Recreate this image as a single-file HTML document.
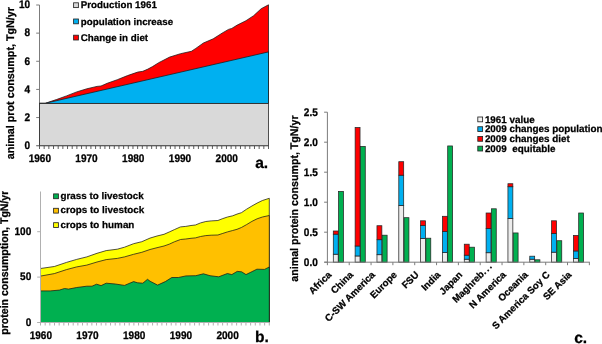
<!DOCTYPE html>
<html><head><meta charset="utf-8"><title>Figure</title>
<style>html,body{margin:0;padding:0;background:#fff;}svg{display:block;}text{font-family:"Liberation Sans",Arial,sans-serif;font-weight:bold;text-rendering:geometricPrecision;stroke:#000;stroke-width:0.25px;}</style>
</head><body>
<svg width="602" height="344" viewBox="0 0 602 344" font-family="Liberation Sans, Arial, sans-serif" font-weight="bold" fill="#000">
<line x1="39.50" y1="5.00" x2="39.50" y2="146.20" stroke="#7c7c7c" stroke-width="1"/>
<line x1="36.50" y1="145.70" x2="269.00" y2="145.70" stroke="#7c7c7c" stroke-width="1"/>
<line x1="36.20" y1="145.70" x2="39.50" y2="145.70" stroke="#7c7c7c" stroke-width="1"/>
<text transform="translate(30.20,149.05) scale(1.04,1.145)" font-size="9.67" text-anchor="end" >0</text>
<line x1="36.20" y1="117.56" x2="39.50" y2="117.56" stroke="#7c7c7c" stroke-width="1"/>
<text transform="translate(30.20,120.91) scale(1.04,1.145)" font-size="9.67" text-anchor="end" >2</text>
<line x1="36.20" y1="89.42" x2="39.50" y2="89.42" stroke="#7c7c7c" stroke-width="1"/>
<text transform="translate(30.20,92.77) scale(1.04,1.145)" font-size="9.67" text-anchor="end" >4</text>
<line x1="36.20" y1="61.28" x2="39.50" y2="61.28" stroke="#7c7c7c" stroke-width="1"/>
<text transform="translate(30.20,64.63) scale(1.04,1.145)" font-size="9.67" text-anchor="end" >6</text>
<line x1="36.20" y1="33.14" x2="39.50" y2="33.14" stroke="#7c7c7c" stroke-width="1"/>
<text transform="translate(30.20,36.49) scale(1.04,1.145)" font-size="9.67" text-anchor="end" >8</text>
<line x1="36.20" y1="5.00" x2="39.50" y2="5.00" stroke="#7c7c7c" stroke-width="1"/>
<text transform="translate(30.20,8.35) scale(1.04,1.145)" font-size="9.67" text-anchor="end" >10</text>
<line x1="39.50" y1="145.70" x2="39.50" y2="149.00" stroke="#5e5e5e" stroke-width="1"/>
<line x1="44.17" y1="145.70" x2="44.17" y2="149.00" stroke="#5e5e5e" stroke-width="1"/>
<line x1="48.85" y1="145.70" x2="48.85" y2="149.00" stroke="#5e5e5e" stroke-width="1"/>
<line x1="53.52" y1="145.70" x2="53.52" y2="149.00" stroke="#5e5e5e" stroke-width="1"/>
<line x1="58.19" y1="145.70" x2="58.19" y2="149.00" stroke="#5e5e5e" stroke-width="1"/>
<line x1="62.87" y1="145.70" x2="62.87" y2="149.00" stroke="#5e5e5e" stroke-width="1"/>
<line x1="67.54" y1="145.70" x2="67.54" y2="149.00" stroke="#5e5e5e" stroke-width="1"/>
<line x1="72.21" y1="145.70" x2="72.21" y2="149.00" stroke="#5e5e5e" stroke-width="1"/>
<line x1="76.89" y1="145.70" x2="76.89" y2="149.00" stroke="#5e5e5e" stroke-width="1"/>
<line x1="81.56" y1="145.70" x2="81.56" y2="149.00" stroke="#5e5e5e" stroke-width="1"/>
<line x1="86.23" y1="145.70" x2="86.23" y2="149.00" stroke="#5e5e5e" stroke-width="1"/>
<line x1="90.91" y1="145.70" x2="90.91" y2="149.00" stroke="#5e5e5e" stroke-width="1"/>
<line x1="95.58" y1="145.70" x2="95.58" y2="149.00" stroke="#5e5e5e" stroke-width="1"/>
<line x1="100.26" y1="145.70" x2="100.26" y2="149.00" stroke="#5e5e5e" stroke-width="1"/>
<line x1="104.93" y1="145.70" x2="104.93" y2="149.00" stroke="#5e5e5e" stroke-width="1"/>
<line x1="109.60" y1="145.70" x2="109.60" y2="149.00" stroke="#5e5e5e" stroke-width="1"/>
<line x1="114.28" y1="145.70" x2="114.28" y2="149.00" stroke="#5e5e5e" stroke-width="1"/>
<line x1="118.95" y1="145.70" x2="118.95" y2="149.00" stroke="#5e5e5e" stroke-width="1"/>
<line x1="123.62" y1="145.70" x2="123.62" y2="149.00" stroke="#5e5e5e" stroke-width="1"/>
<line x1="128.30" y1="145.70" x2="128.30" y2="149.00" stroke="#5e5e5e" stroke-width="1"/>
<line x1="132.97" y1="145.70" x2="132.97" y2="149.00" stroke="#5e5e5e" stroke-width="1"/>
<line x1="137.64" y1="145.70" x2="137.64" y2="149.00" stroke="#5e5e5e" stroke-width="1"/>
<line x1="142.32" y1="145.70" x2="142.32" y2="149.00" stroke="#5e5e5e" stroke-width="1"/>
<line x1="146.99" y1="145.70" x2="146.99" y2="149.00" stroke="#5e5e5e" stroke-width="1"/>
<line x1="151.66" y1="145.70" x2="151.66" y2="149.00" stroke="#5e5e5e" stroke-width="1"/>
<line x1="156.34" y1="145.70" x2="156.34" y2="149.00" stroke="#5e5e5e" stroke-width="1"/>
<line x1="161.01" y1="145.70" x2="161.01" y2="149.00" stroke="#5e5e5e" stroke-width="1"/>
<line x1="165.68" y1="145.70" x2="165.68" y2="149.00" stroke="#5e5e5e" stroke-width="1"/>
<line x1="170.36" y1="145.70" x2="170.36" y2="149.00" stroke="#5e5e5e" stroke-width="1"/>
<line x1="175.03" y1="145.70" x2="175.03" y2="149.00" stroke="#5e5e5e" stroke-width="1"/>
<line x1="179.70" y1="145.70" x2="179.70" y2="149.00" stroke="#5e5e5e" stroke-width="1"/>
<line x1="184.38" y1="145.70" x2="184.38" y2="149.00" stroke="#5e5e5e" stroke-width="1"/>
<line x1="189.05" y1="145.70" x2="189.05" y2="149.00" stroke="#5e5e5e" stroke-width="1"/>
<line x1="193.72" y1="145.70" x2="193.72" y2="149.00" stroke="#5e5e5e" stroke-width="1"/>
<line x1="198.40" y1="145.70" x2="198.40" y2="149.00" stroke="#5e5e5e" stroke-width="1"/>
<line x1="203.07" y1="145.70" x2="203.07" y2="149.00" stroke="#5e5e5e" stroke-width="1"/>
<line x1="207.74" y1="145.70" x2="207.74" y2="149.00" stroke="#5e5e5e" stroke-width="1"/>
<line x1="212.42" y1="145.70" x2="212.42" y2="149.00" stroke="#5e5e5e" stroke-width="1"/>
<line x1="217.09" y1="145.70" x2="217.09" y2="149.00" stroke="#5e5e5e" stroke-width="1"/>
<line x1="221.77" y1="145.70" x2="221.77" y2="149.00" stroke="#5e5e5e" stroke-width="1"/>
<line x1="226.44" y1="145.70" x2="226.44" y2="149.00" stroke="#5e5e5e" stroke-width="1"/>
<line x1="231.11" y1="145.70" x2="231.11" y2="149.00" stroke="#5e5e5e" stroke-width="1"/>
<line x1="235.79" y1="145.70" x2="235.79" y2="149.00" stroke="#5e5e5e" stroke-width="1"/>
<line x1="240.46" y1="145.70" x2="240.46" y2="149.00" stroke="#5e5e5e" stroke-width="1"/>
<line x1="245.13" y1="145.70" x2="245.13" y2="149.00" stroke="#5e5e5e" stroke-width="1"/>
<line x1="249.81" y1="145.70" x2="249.81" y2="149.00" stroke="#5e5e5e" stroke-width="1"/>
<line x1="254.48" y1="145.70" x2="254.48" y2="149.00" stroke="#5e5e5e" stroke-width="1"/>
<line x1="259.15" y1="145.70" x2="259.15" y2="149.00" stroke="#5e5e5e" stroke-width="1"/>
<line x1="263.83" y1="145.70" x2="263.83" y2="149.00" stroke="#5e5e5e" stroke-width="1"/>
<line x1="268.50" y1="145.70" x2="268.50" y2="149.00" stroke="#5e5e5e" stroke-width="1"/>
<text transform="translate(39.80,161.65) scale(1.04,1.145)" font-size="9.67" text-anchor="middle" >1960</text>
<text transform="translate(86.53,161.65) scale(1.04,1.145)" font-size="9.67" text-anchor="middle" >1970</text>
<text transform="translate(133.27,161.65) scale(1.04,1.145)" font-size="9.67" text-anchor="middle" >1980</text>
<text transform="translate(180.00,161.65) scale(1.04,1.145)" font-size="9.67" text-anchor="middle" >1990</text>
<text transform="translate(226.74,161.65) scale(1.04,1.145)" font-size="9.67" text-anchor="middle" >2000</text>
<polygon points="39.50,103.30 45.20,103.30 56.30,99.60 66.50,95.90 76.70,91.90 86.80,88.80 97.00,86.40 101.00,86.00 107.20,83.30 117.30,79.70 127.50,75.60 137.70,72.10 142.80,71.30 147.90,69.10 152.50,66.60 158.70,62.70 169.60,57.10 180.50,53.70 191.40,51.30 195.80,48.40 203.40,43.00 213.20,38.80 222.00,33.20 228.50,29.40 231.80,28.40 237.20,25.10 246.00,20.70 253.60,15.70 261.20,8.70 268.50,4.80 268.50,103.49 39.50,103.49" fill="#ff0000" stroke="#1a1a1a" stroke-width="0.75" stroke-linejoin="round"/>
<polygon points="39.50,103.30 45.20,103.30 268.50,51.90 268.50,103.49 39.50,103.49" fill="#00b0f0" stroke="#1a1a1a" stroke-width="0.75" stroke-linejoin="round"/>
<polygon points="39.50,103.49 268.50,103.49 268.50,145.70 39.50,145.70" fill="#d9d9d9" stroke="#1a1a1a" stroke-width="0.75" stroke-linejoin="round"/>
<rect x="73.6" y="2.80" width="4.8" height="4.8" fill="#d9d9d9" stroke="#262626" stroke-width="0.85"/>
<text transform="translate(80.80,8.40) scale(1.012,1.0)" font-size="9.67" text-anchor="start" >Production 1961</text>
<rect x="73.6" y="19.00" width="4.8" height="4.8" fill="#00b0f0" stroke="#262626" stroke-width="0.85"/>
<text transform="translate(80.80,24.60) scale(1.012,1.0)" font-size="9.67" text-anchor="start" >population increase</text>
<rect x="73.6" y="35.20" width="4.8" height="4.8" fill="#ff0000" stroke="#262626" stroke-width="0.85"/>
<text transform="translate(80.80,40.80) scale(1.012,1.0)" font-size="9.67" text-anchor="start" >Change in diet</text>
<text transform="translate(13.80,159.20) rotate(-90) scale(0.968,1)" font-size="11.1" text-anchor="start">animal prot consumpt, TgN/yr</text>
<text x="255.20" y="167.60" font-size="15.6" text-anchor="start" >a.</text>
<polygon points="40.50,268.50 54.30,266.50 66.50,262.40 76.70,259.40 86.80,256.90 97.00,253.30 106.20,250.60 117.30,249.20 124.50,247.20 133.60,243.70 141.80,241.70 150.00,238.10 157.00,236.00 164.00,234.30 169.20,232.00 174.40,229.60 180.50,226.90 185.80,226.40 191.00,225.50 195.40,225.00 200.60,222.90 205.80,221.50 211.10,220.90 217.90,220.50 222.20,218.80 227.50,217.00 232.70,215.80 237.00,214.10 241.40,212.70 246.60,209.20 251.90,206.00 257.10,203.10 262.40,200.50 269.30,198.30 269.30,322.50 40.50,322.50" fill="#ffff00" stroke="#1a1a1a" stroke-width="0.75" stroke-linejoin="round"/>
<polygon points="40.50,276.10 54.30,273.60 66.50,269.60 76.70,266.90 86.80,265.10 97.00,262.00 106.20,259.60 117.30,258.40 124.50,256.90 133.60,254.30 141.80,252.30 150.00,249.50 157.00,247.70 164.00,246.00 169.20,244.20 174.40,241.80 180.50,239.50 185.80,239.00 191.00,238.30 195.40,237.90 200.60,236.50 205.80,235.60 211.10,235.20 217.90,235.00 222.20,233.60 227.50,231.90 232.70,230.50 237.00,229.30 241.40,227.50 246.60,224.60 251.90,221.40 257.10,218.80 262.40,217.00 269.30,215.50 269.30,322.50 40.50,322.50" fill="#ffc000" stroke="#1a1a1a" stroke-width="0.75" stroke-linejoin="round"/>
<polygon points="40.50,290.90 50.20,290.90 59.40,290.10 64.50,288.50 68.50,289.10 76.70,287.50 86.80,286.20 92.00,286.20 96.60,284.20 101.10,285.60 106.20,283.20 115.30,284.00 124.50,285.40 133.60,281.60 137.70,282.80 142.80,283.20 147.50,279.30 150.00,281.20 157.60,285.10 165.30,281.60 171.80,277.50 178.40,277.50 186.00,275.90 195.80,275.70 203.40,273.80 210.00,275.70 218.70,276.80 227.40,273.50 231.80,274.60 237.20,271.40 241.60,271.80 246.00,274.60 256.90,269.20 264.50,269.40 269.30,267.00 269.30,322.50 40.50,322.50" fill="#00b050" stroke="#1a1a1a" stroke-width="0.75" stroke-linejoin="round"/>
<line x1="40.50" y1="191.50" x2="40.50" y2="323.00" stroke="#b0b0b0" stroke-width="1"/>
<line x1="37.50" y1="322.50" x2="269.80" y2="322.50" stroke="#b0b0b0" stroke-width="1"/>
<line x1="37.20" y1="322.50" x2="40.50" y2="322.50" stroke="#b0b0b0" stroke-width="1"/>
<text transform="translate(31.30,325.85) scale(1.04,1.145)" font-size="9.67" text-anchor="end" >0</text>
<line x1="37.20" y1="277.10" x2="40.50" y2="277.10" stroke="#b0b0b0" stroke-width="1"/>
<text transform="translate(31.30,280.45) scale(1.04,1.145)" font-size="9.67" text-anchor="end" >50</text>
<line x1="37.20" y1="231.70" x2="40.50" y2="231.70" stroke="#b0b0b0" stroke-width="1"/>
<text transform="translate(31.30,235.05) scale(1.04,1.145)" font-size="9.67" text-anchor="end" >100</text>
<line x1="40.50" y1="322.50" x2="40.50" y2="325.50" stroke="#b0b0b0" stroke-width="1"/>
<line x1="45.17" y1="322.50" x2="45.17" y2="325.50" stroke="#b0b0b0" stroke-width="1"/>
<line x1="49.84" y1="322.50" x2="49.84" y2="325.50" stroke="#b0b0b0" stroke-width="1"/>
<line x1="54.51" y1="322.50" x2="54.51" y2="325.50" stroke="#b0b0b0" stroke-width="1"/>
<line x1="59.18" y1="322.50" x2="59.18" y2="325.50" stroke="#b0b0b0" stroke-width="1"/>
<line x1="63.85" y1="322.50" x2="63.85" y2="325.50" stroke="#b0b0b0" stroke-width="1"/>
<line x1="68.52" y1="322.50" x2="68.52" y2="325.50" stroke="#b0b0b0" stroke-width="1"/>
<line x1="73.19" y1="322.50" x2="73.19" y2="325.50" stroke="#b0b0b0" stroke-width="1"/>
<line x1="77.86" y1="322.50" x2="77.86" y2="325.50" stroke="#b0b0b0" stroke-width="1"/>
<line x1="82.52" y1="322.50" x2="82.52" y2="325.50" stroke="#b0b0b0" stroke-width="1"/>
<line x1="87.19" y1="322.50" x2="87.19" y2="325.50" stroke="#b0b0b0" stroke-width="1"/>
<line x1="91.86" y1="322.50" x2="91.86" y2="325.50" stroke="#b0b0b0" stroke-width="1"/>
<line x1="96.53" y1="322.50" x2="96.53" y2="325.50" stroke="#b0b0b0" stroke-width="1"/>
<line x1="101.20" y1="322.50" x2="101.20" y2="325.50" stroke="#b0b0b0" stroke-width="1"/>
<line x1="105.87" y1="322.50" x2="105.87" y2="325.50" stroke="#b0b0b0" stroke-width="1"/>
<line x1="110.54" y1="322.50" x2="110.54" y2="325.50" stroke="#b0b0b0" stroke-width="1"/>
<line x1="115.21" y1="322.50" x2="115.21" y2="325.50" stroke="#b0b0b0" stroke-width="1"/>
<line x1="119.88" y1="322.50" x2="119.88" y2="325.50" stroke="#b0b0b0" stroke-width="1"/>
<line x1="124.55" y1="322.50" x2="124.55" y2="325.50" stroke="#b0b0b0" stroke-width="1"/>
<line x1="129.22" y1="322.50" x2="129.22" y2="325.50" stroke="#b0b0b0" stroke-width="1"/>
<line x1="133.89" y1="322.50" x2="133.89" y2="325.50" stroke="#b0b0b0" stroke-width="1"/>
<line x1="138.56" y1="322.50" x2="138.56" y2="325.50" stroke="#b0b0b0" stroke-width="1"/>
<line x1="143.23" y1="322.50" x2="143.23" y2="325.50" stroke="#b0b0b0" stroke-width="1"/>
<line x1="147.90" y1="322.50" x2="147.90" y2="325.50" stroke="#b0b0b0" stroke-width="1"/>
<line x1="152.57" y1="322.50" x2="152.57" y2="325.50" stroke="#b0b0b0" stroke-width="1"/>
<line x1="157.23" y1="322.50" x2="157.23" y2="325.50" stroke="#b0b0b0" stroke-width="1"/>
<line x1="161.90" y1="322.50" x2="161.90" y2="325.50" stroke="#b0b0b0" stroke-width="1"/>
<line x1="166.57" y1="322.50" x2="166.57" y2="325.50" stroke="#b0b0b0" stroke-width="1"/>
<line x1="171.24" y1="322.50" x2="171.24" y2="325.50" stroke="#b0b0b0" stroke-width="1"/>
<line x1="175.91" y1="322.50" x2="175.91" y2="325.50" stroke="#b0b0b0" stroke-width="1"/>
<line x1="180.58" y1="322.50" x2="180.58" y2="325.50" stroke="#b0b0b0" stroke-width="1"/>
<line x1="185.25" y1="322.50" x2="185.25" y2="325.50" stroke="#b0b0b0" stroke-width="1"/>
<line x1="189.92" y1="322.50" x2="189.92" y2="325.50" stroke="#b0b0b0" stroke-width="1"/>
<line x1="194.59" y1="322.50" x2="194.59" y2="325.50" stroke="#b0b0b0" stroke-width="1"/>
<line x1="199.26" y1="322.50" x2="199.26" y2="325.50" stroke="#b0b0b0" stroke-width="1"/>
<line x1="203.93" y1="322.50" x2="203.93" y2="325.50" stroke="#b0b0b0" stroke-width="1"/>
<line x1="208.60" y1="322.50" x2="208.60" y2="325.50" stroke="#b0b0b0" stroke-width="1"/>
<line x1="213.27" y1="322.50" x2="213.27" y2="325.50" stroke="#b0b0b0" stroke-width="1"/>
<line x1="217.94" y1="322.50" x2="217.94" y2="325.50" stroke="#b0b0b0" stroke-width="1"/>
<line x1="222.61" y1="322.50" x2="222.61" y2="325.50" stroke="#b0b0b0" stroke-width="1"/>
<line x1="227.28" y1="322.50" x2="227.28" y2="325.50" stroke="#b0b0b0" stroke-width="1"/>
<line x1="231.94" y1="322.50" x2="231.94" y2="325.50" stroke="#b0b0b0" stroke-width="1"/>
<line x1="236.61" y1="322.50" x2="236.61" y2="325.50" stroke="#b0b0b0" stroke-width="1"/>
<line x1="241.28" y1="322.50" x2="241.28" y2="325.50" stroke="#b0b0b0" stroke-width="1"/>
<line x1="245.95" y1="322.50" x2="245.95" y2="325.50" stroke="#b0b0b0" stroke-width="1"/>
<line x1="250.62" y1="322.50" x2="250.62" y2="325.50" stroke="#b0b0b0" stroke-width="1"/>
<line x1="255.29" y1="322.50" x2="255.29" y2="325.50" stroke="#b0b0b0" stroke-width="1"/>
<line x1="259.96" y1="322.50" x2="259.96" y2="325.50" stroke="#b0b0b0" stroke-width="1"/>
<line x1="264.63" y1="322.50" x2="264.63" y2="325.50" stroke="#b0b0b0" stroke-width="1"/>
<line x1="269.30" y1="322.50" x2="269.30" y2="325.50" stroke="#b0b0b0" stroke-width="1"/>
<text transform="translate(40.80,338.65) scale(1.04,1.145)" font-size="9.67" text-anchor="middle" >1960</text>
<text transform="translate(87.49,338.65) scale(1.04,1.145)" font-size="9.67" text-anchor="middle" >1970</text>
<text transform="translate(134.19,338.65) scale(1.04,1.145)" font-size="9.67" text-anchor="middle" >1980</text>
<text transform="translate(180.88,338.65) scale(1.04,1.145)" font-size="9.67" text-anchor="middle" >1990</text>
<text transform="translate(227.58,338.65) scale(1.04,1.145)" font-size="9.67" text-anchor="middle" >2000</text>
<rect x="53.6" y="193.90" width="4.8" height="4.8" fill="#00b050" stroke="#262626" stroke-width="0.85"/>
<text transform="translate(60.50,199.00) scale(1.02,1.0)" font-size="9.67" text-anchor="start" >grass to livestock</text>
<rect x="53.6" y="208.30" width="4.8" height="4.8" fill="#ffc000" stroke="#262626" stroke-width="0.85"/>
<text transform="translate(60.50,213.30) scale(1.02,1.0)" font-size="9.67" text-anchor="start" >crops to livestock</text>
<rect x="53.6" y="222.70" width="4.8" height="4.8" fill="#ffff00" stroke="#262626" stroke-width="0.85"/>
<text transform="translate(60.50,227.60) scale(1.02,1.0)" font-size="9.67" text-anchor="start" >crops to human</text>
<clipPath id="cb"><rect x="0" y="191.2" width="40" height="153"/></clipPath>
<g clip-path="url(#cb)">
<text transform="translate(8.40,334.70) rotate(-90) scale(0.95,1)" font-size="11.1" text-anchor="start">protein consumption, TgN/yr</text>
</g>
<text x="255.00" y="342.40" font-size="15.6" text-anchor="start" >b.</text>
<rect x="333.30" y="254.22" width="4.9" height="7.98" fill="#ececec" stroke="#262626" stroke-width="0.75"/>
<rect x="333.30" y="234.18" width="4.9" height="20.04" fill="#00b0f0" stroke="#262626" stroke-width="0.75"/>
<rect x="333.30" y="231.00" width="4.9" height="3.18" fill="#ff0000" stroke="#262626" stroke-width="0.75"/>
<rect x="338.55" y="191.40" width="4.9" height="70.80" fill="#00b050" stroke="#262626" stroke-width="0.75"/>
<rect x="355.13" y="255.96" width="4.9" height="6.24" fill="#ececec" stroke="#262626" stroke-width="0.75"/>
<rect x="355.13" y="246.00" width="4.9" height="9.96" fill="#00b0f0" stroke="#262626" stroke-width="0.75"/>
<rect x="355.13" y="127.50" width="4.9" height="118.50" fill="#ff0000" stroke="#262626" stroke-width="0.75"/>
<rect x="360.38" y="146.40" width="4.9" height="115.80" fill="#00b050" stroke="#262626" stroke-width="0.75"/>
<rect x="376.96" y="254.70" width="4.9" height="7.50" fill="#ececec" stroke="#262626" stroke-width="0.75"/>
<rect x="376.96" y="239.70" width="4.9" height="15.00" fill="#00b0f0" stroke="#262626" stroke-width="0.75"/>
<rect x="376.96" y="225.72" width="4.9" height="13.98" fill="#ff0000" stroke="#262626" stroke-width="0.75"/>
<rect x="382.21" y="235.20" width="4.9" height="27.00" fill="#00b050" stroke="#262626" stroke-width="0.75"/>
<rect x="398.79" y="205.44" width="4.9" height="56.76" fill="#ececec" stroke="#262626" stroke-width="0.75"/>
<rect x="398.79" y="175.20" width="4.9" height="30.24" fill="#00b0f0" stroke="#262626" stroke-width="0.75"/>
<rect x="398.79" y="161.70" width="4.9" height="13.50" fill="#ff0000" stroke="#262626" stroke-width="0.75"/>
<rect x="404.04" y="217.68" width="4.9" height="44.52" fill="#00b050" stroke="#262626" stroke-width="0.75"/>
<rect x="420.62" y="238.44" width="4.9" height="23.76" fill="#ececec" stroke="#262626" stroke-width="0.75"/>
<rect x="420.62" y="225.60" width="4.9" height="12.84" fill="#00b0f0" stroke="#262626" stroke-width="0.75"/>
<rect x="420.62" y="220.80" width="4.9" height="4.80" fill="#ff0000" stroke="#262626" stroke-width="0.75"/>
<rect x="425.87" y="238.20" width="4.9" height="24.00" fill="#00b050" stroke="#262626" stroke-width="0.75"/>
<rect x="442.45" y="252.60" width="4.9" height="9.60" fill="#ececec" stroke="#262626" stroke-width="0.75"/>
<rect x="442.45" y="231.60" width="4.9" height="21.00" fill="#00b0f0" stroke="#262626" stroke-width="0.75"/>
<rect x="442.45" y="216.30" width="4.9" height="15.30" fill="#ff0000" stroke="#262626" stroke-width="0.75"/>
<rect x="447.70" y="145.95" width="4.9" height="116.25" fill="#00b050" stroke="#262626" stroke-width="0.75"/>
<rect x="464.28" y="259.20" width="4.9" height="3.00" fill="#ececec" stroke="#262626" stroke-width="0.75"/>
<rect x="464.28" y="255.18" width="4.9" height="4.02" fill="#00b0f0" stroke="#262626" stroke-width="0.75"/>
<rect x="464.28" y="244.20" width="4.9" height="10.98" fill="#ff0000" stroke="#262626" stroke-width="0.75"/>
<rect x="469.53" y="247.20" width="4.9" height="15.00" fill="#00b050" stroke="#262626" stroke-width="0.75"/>
<rect x="486.11" y="252.72" width="4.9" height="9.48" fill="#ececec" stroke="#262626" stroke-width="0.75"/>
<rect x="486.11" y="228.45" width="4.9" height="24.27" fill="#00b0f0" stroke="#262626" stroke-width="0.75"/>
<rect x="486.11" y="213.00" width="4.9" height="15.45" fill="#ff0000" stroke="#262626" stroke-width="0.75"/>
<rect x="491.36" y="208.80" width="4.9" height="53.40" fill="#00b050" stroke="#262626" stroke-width="0.75"/>
<rect x="507.94" y="218.40" width="4.9" height="43.80" fill="#ececec" stroke="#262626" stroke-width="0.75"/>
<rect x="507.94" y="186.72" width="4.9" height="31.68" fill="#00b0f0" stroke="#262626" stroke-width="0.75"/>
<rect x="507.94" y="183.72" width="4.9" height="3.00" fill="#ff0000" stroke="#262626" stroke-width="0.75"/>
<rect x="513.19" y="232.95" width="4.9" height="29.25" fill="#00b050" stroke="#262626" stroke-width="0.75"/>
<rect x="529.77" y="259.20" width="4.9" height="3.00" fill="#ececec" stroke="#262626" stroke-width="0.75"/>
<rect x="529.77" y="256.20" width="4.9" height="3.00" fill="#00b0f0" stroke="#262626" stroke-width="0.75"/>
<rect x="535.02" y="259.80" width="4.9" height="2.40" fill="#00b050" stroke="#262626" stroke-width="0.75"/>
<rect x="551.60" y="252.18" width="4.9" height="10.02" fill="#ececec" stroke="#262626" stroke-width="0.75"/>
<rect x="551.60" y="233.40" width="4.9" height="18.78" fill="#00b0f0" stroke="#262626" stroke-width="0.75"/>
<rect x="551.60" y="220.80" width="4.9" height="12.60" fill="#ff0000" stroke="#262626" stroke-width="0.75"/>
<rect x="556.85" y="240.72" width="4.9" height="21.48" fill="#00b050" stroke="#262626" stroke-width="0.75"/>
<rect x="573.43" y="258.45" width="4.9" height="3.75" fill="#ececec" stroke="#262626" stroke-width="0.75"/>
<rect x="573.43" y="250.95" width="4.9" height="7.50" fill="#00b0f0" stroke="#262626" stroke-width="0.75"/>
<rect x="573.43" y="235.44" width="4.9" height="15.51" fill="#ff0000" stroke="#262626" stroke-width="0.75"/>
<rect x="578.68" y="213.00" width="4.9" height="49.20" fill="#00b050" stroke="#262626" stroke-width="0.75"/>
<line x1="327.40" y1="112.20" x2="327.40" y2="262.70" stroke="#7c7c7c" stroke-width="1"/>
<line x1="324.40" y1="262.20" x2="589.86" y2="262.20" stroke="#7c7c7c" stroke-width="1"/>
<line x1="324.10" y1="262.20" x2="327.40" y2="262.20" stroke="#7c7c7c" stroke-width="1"/>
<text transform="translate(317.80,265.65) scale(1.04,1.145)" font-size="9.67" text-anchor="end" >0.0</text>
<line x1="324.10" y1="232.20" x2="327.40" y2="232.20" stroke="#7c7c7c" stroke-width="1"/>
<text transform="translate(317.80,235.65) scale(1.04,1.145)" font-size="9.67" text-anchor="end" >0.5</text>
<line x1="324.10" y1="202.20" x2="327.40" y2="202.20" stroke="#7c7c7c" stroke-width="1"/>
<text transform="translate(317.80,205.65) scale(1.04,1.145)" font-size="9.67" text-anchor="end" >1.0</text>
<line x1="324.10" y1="172.20" x2="327.40" y2="172.20" stroke="#7c7c7c" stroke-width="1"/>
<text transform="translate(317.80,175.65) scale(1.04,1.145)" font-size="9.67" text-anchor="end" >1.5</text>
<line x1="324.10" y1="142.20" x2="327.40" y2="142.20" stroke="#7c7c7c" stroke-width="1"/>
<text transform="translate(317.80,145.65) scale(1.04,1.145)" font-size="9.67" text-anchor="end" >2.0</text>
<line x1="324.10" y1="112.20" x2="327.40" y2="112.20" stroke="#7c7c7c" stroke-width="1"/>
<text transform="translate(317.80,115.65) scale(1.04,1.145)" font-size="9.67" text-anchor="end" >2.5</text>
<line x1="327.40" y1="262.20" x2="327.40" y2="265.20" stroke="#7c7c7c" stroke-width="1"/>
<line x1="349.23" y1="262.20" x2="349.23" y2="265.20" stroke="#7c7c7c" stroke-width="1"/>
<line x1="371.06" y1="262.20" x2="371.06" y2="265.20" stroke="#7c7c7c" stroke-width="1"/>
<line x1="392.89" y1="262.20" x2="392.89" y2="265.20" stroke="#7c7c7c" stroke-width="1"/>
<line x1="414.72" y1="262.20" x2="414.72" y2="265.20" stroke="#7c7c7c" stroke-width="1"/>
<line x1="436.55" y1="262.20" x2="436.55" y2="265.20" stroke="#7c7c7c" stroke-width="1"/>
<line x1="458.38" y1="262.20" x2="458.38" y2="265.20" stroke="#7c7c7c" stroke-width="1"/>
<line x1="480.21" y1="262.20" x2="480.21" y2="265.20" stroke="#7c7c7c" stroke-width="1"/>
<line x1="502.04" y1="262.20" x2="502.04" y2="265.20" stroke="#7c7c7c" stroke-width="1"/>
<line x1="523.87" y1="262.20" x2="523.87" y2="265.20" stroke="#7c7c7c" stroke-width="1"/>
<line x1="545.70" y1="262.20" x2="545.70" y2="265.20" stroke="#7c7c7c" stroke-width="1"/>
<line x1="567.53" y1="262.20" x2="567.53" y2="265.20" stroke="#7c7c7c" stroke-width="1"/>
<line x1="589.36" y1="262.20" x2="589.36" y2="265.20" stroke="#7c7c7c" stroke-width="1"/>
<text transform="translate(332.01,275.40) rotate(-45)" font-size="9.67" text-anchor="end">Africa</text>
<text transform="translate(353.84,275.40) rotate(-45)" font-size="9.67" text-anchor="end">China</text>
<text transform="translate(375.67,275.40) rotate(-45)" font-size="9.67" text-anchor="end">C-SW America</text>
<text transform="translate(397.50,275.40) rotate(-45)" font-size="9.67" text-anchor="end">Europe</text>
<text transform="translate(419.33,275.40) rotate(-45)" font-size="9.67" text-anchor="end">FSU</text>
<text transform="translate(441.16,275.40) rotate(-45)" font-size="9.67" text-anchor="end">India</text>
<text transform="translate(462.99,275.40) rotate(-45)" font-size="9.67" text-anchor="end">Japan</text>
<text transform="translate(493.43,266.20) rotate(-45)" font-size="9.67" text-anchor="end">Maghreb<tspan letter-spacing="1.4">...</tspan></text>
<text transform="translate(506.65,275.40) rotate(-45)" font-size="9.67" text-anchor="end">N America</text>
<text transform="translate(528.49,275.40) rotate(-45)" font-size="9.67" text-anchor="end">Oceania</text>
<text transform="translate(550.32,275.40) rotate(-45)" font-size="9.67" text-anchor="end">S America Soy C</text>
<text transform="translate(572.14,275.40) rotate(-45)" font-size="9.67" text-anchor="end">SE Asia</text>
<rect x="477.8" y="117.00" width="4.8" height="4.8" fill="#f2f2f2" stroke="#262626" stroke-width="0.85"/>
<text x="484.9" y="122.50" font-size="9.85" xml:space="preserve">1961 value</text>
<rect x="477.8" y="126.73" width="4.8" height="4.8" fill="#00b0f0" stroke="#262626" stroke-width="0.85"/>
<text x="484.9" y="132.23" font-size="9.85" xml:space="preserve">2009 changes population</text>
<rect x="477.8" y="136.46" width="4.8" height="4.8" fill="#ff0000" stroke="#262626" stroke-width="0.85"/>
<text x="484.9" y="141.96" font-size="9.85" xml:space="preserve">2009 changes diet</text>
<rect x="477.8" y="146.19" width="4.8" height="4.8" fill="#00b050" stroke="#262626" stroke-width="0.85"/>
<text x="484.9" y="151.69" font-size="9.85" xml:space="preserve">2009  equitable</text>
<text transform="translate(298.30,281.70) rotate(-90) scale(0.96,1)" font-size="11.1" text-anchor="start">animal protein consumpt, TgN/yr</text>
<text x="574.20" y="342.60" font-size="15.6" text-anchor="start" >c.</text>
</svg>
</body></html>
